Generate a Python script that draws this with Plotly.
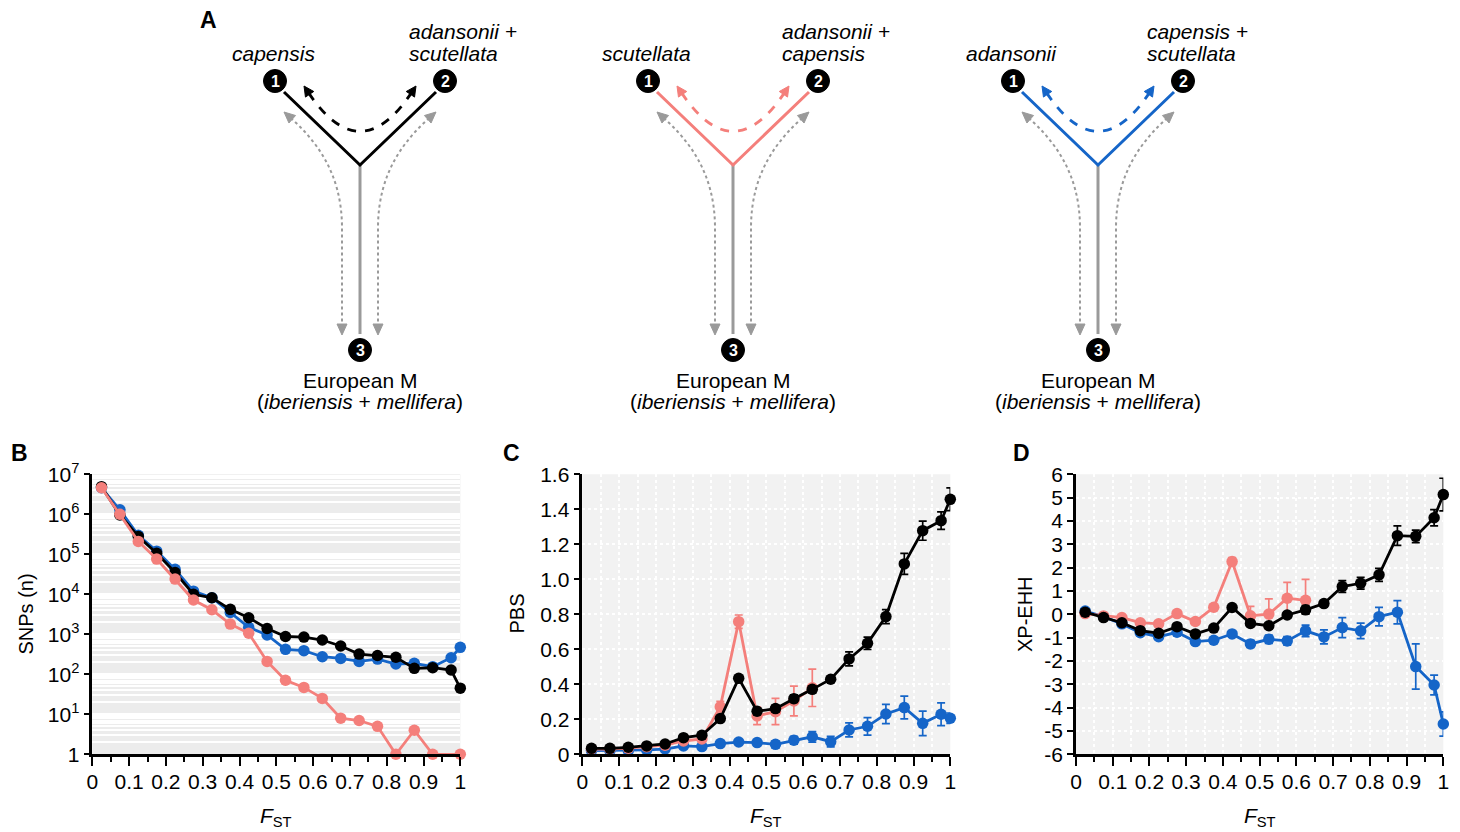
import math
import plotly.graph_objects as go

# ---------------- data ----------------
fst = [0.025, 0.075, 0.125, 0.175, 0.225, 0.275, 0.325, 0.375, 0.425, 0.475,
       0.525, 0.575, 0.625, 0.675, 0.725, 0.775, 0.825, 0.875, 0.925, 0.975, 1.0]

# Panel B: number of SNPs per FST bin
snp_black = [4.9e6, 9.6e5, 2.8e5, 1.06e5, 3.5e4, 1.0e4, 8.2e3, 4.2e3, 2.6e3, 1.4e3,
             880, 850, 720, 510, 320, 295, 266, 141, 146, 128, 45]
snp_blue = [4.6e6, 1.3e6, 3.0e5, 1.2e5, 4.2e4, 1.2e4, 8.2e3, 3.5e3, 1.5e3, 960,
            420, 390, 275, 250, 210, 240, 181, 188, 155, 260, 473]
snp_pink = [4.6e6, 1.0e6, 2.1e5, 7.6e4, 2.4e4, 7.2e3, 4.1e3, 1.8e3, 1.06e3, 210,
            71, 47, 25, 8, 7, 5, 1, 4, 1, None, 1]

# Panel C: PBS
pbs_black = [0.034, 0.034, 0.040, 0.048, 0.059, 0.095, 0.109, 0.204, 0.434, 0.246,
             0.261, 0.318, 0.371, 0.429, 0.545, 0.634, 0.787, 1.088, 1.278, 1.335, 1.457]
pbs_black_err = [0.005, 0.005, 0.005, 0.005, 0.006, 0.008, 0.010, 0.012, 0.012, 0.020,
                 0.020, 0.022, 0.020, 0.015, 0.040, 0.035, 0.040, 0.060, 0.055, 0.050, 0.065]
pbs_pink = [0.030, 0.030, 0.035, 0.043, 0.052, 0.076, 0.088, 0.272, 0.758, 0.219,
            0.244, 0.305, 0.380]
pbs_pink_err = [0.004, 0.004, 0.004, 0.005, 0.006, 0.010, 0.012, 0.030, 0.038, 0.050,
                0.075, 0.085, 0.107]
pbs_blue = [0.021, 0.021, 0.021, 0.025, 0.030, 0.048, 0.044, 0.061, 0.070, 0.067,
            0.057, 0.080, 0.100, 0.072, 0.139, 0.160, 0.230, 0.267, 0.177, 0.229, 0.206]
pbs_blue_err = [0.004, 0.004, 0.004, 0.004, 0.005, 0.006, 0.006, 0.008, 0.010, 0.012,
                0.020, 0.022, 0.030, 0.030, 0.040, 0.050, 0.055, 0.065, 0.070, 0.065, 0.030]

# Panel D: XP-EHH
xp_black = [0.09, -0.14, -0.36, -0.70, -0.81, -0.53, -0.84, -0.59, 0.29, -0.39,
            -0.49, -0.03, 0.19, 0.46, 1.19, 1.33, 1.69, 3.37, 3.34, 4.14, 5.13]
xp_black_err = [0.03, 0.03, 0.04, 0.05, 0.06, 0.06, 0.07, 0.08, 0.10, 0.12,
                0.12, 0.13, 0.18, 0.13, 0.25, 0.25, 0.28, 0.42, 0.27, 0.35, 0.70]
xp_pink = [0.03, -0.07, -0.14, -0.36, -0.41, 0.03, -0.31, 0.30, 2.26, -0.06,
           0.01, 0.69, 0.60]
xp_pink_err = [0.03, 0.04, 0.05, 0.05, 0.06, 0.07, 0.08, 0.12, 0.17, 0.40,
               0.65, 0.68, 0.90]
xp_pink_errminus = [0.03, 0.04, 0.05, 0.05, 0.06, 0.07, 0.08, 0.12, 0.17, 0.40,
                    0.65, 0.68, 0.55]
xp_blue = [0.14, -0.10, -0.41, -0.79, -0.96, -0.77, -1.17, -1.11, -0.84, -1.27,
           -1.07, -1.14, -0.71, -0.97, -0.57, -0.71, -0.10, 0.09, -2.24, -3.03, -4.70]
xp_blue_err = [0.03, 0.03, 0.04, 0.05, 0.06, 0.06, 0.07, 0.08, 0.10, 0.15,
               0.18, 0.18, 0.25, 0.30, 0.43, 0.33, 0.40, 0.50, 0.97, 0.42, 0.52]

x_ticks = [0, 0.1, 0.2, 0.3, 0.4, 0.5, 0.6, 0.7, 0.8, 0.9, 1.0]
x_ticktext = ["0", "0.1", "0.2", "0.3", "0.4", "0.5", "0.6", "0.7", "0.8", "0.9", "1"]
snp_ticks = [1, 1e1, 1e2, 1e3, 1e4, 1e5, 1e6, 1e7]
snp_ticktext = ["1", "10<sup>1</sup>", "10<sup>2</sup>", "10<sup>3</sup>", "10<sup>4</sup>",
                "10<sup>5</sup>", "10<sup>6</sup>", "10<sup>7</sup>"]
pbs_ticks = [0, 0.2, 0.4, 0.6, 0.8, 1.0, 1.2, 1.4, 1.6]
pbs_ticktext = ["0", "0.2", "0.4", "0.6", "0.8", "1.0", "1.2", "1.4", "1.6"]
xp_ticks = [-6, -5, -4, -3, -2, -1, 0, 1, 2, 3, 4, 5, 6]
xp_ticktext = ["-6", "-5", "-4", "-3", "-2", "-1", "0", "1", "2", "3", "4", "5", "6"]

# tree diagrams: (left label, right label line 1, right label line 2)
trees = [
    ("capensis", "adansonii +", "scutellata"),
    ("scutellata", "adansonii +", "capensis"),
    ("adansonii", "capensis +", "scutellata"),
]

# ---------------- style ----------------
W, H = 1460, 832
BLACK = "#000000"
PINK = "#f47f7b"
BLUE = "#1565c8"
GREY = "#9a9a9a"
FONT = "Liberation Sans, Arial, sans-serif"
TICKF = 21

fig = go.Figure()


def px(x0, x1):
    return [x0 / W, x1 / W]


def py(top, bottom):
    return [(H - bottom) / H, (H - top) / H]


panels = {
    "B": dict(xa="x", ya="y", dx=px(92.3, 460.3)),
    "C": dict(xa="x2", ya="y2", dx=px(582.3, 950.3)),
    "D": dict(xa="x3", ya="y3", dx=px(1076, 1443.3)),
}
dy = py(474.3, 754.3)


def add_series(xa, ya, yvals, color, err=None, errminus=None):
    kw = {}
    if err is not None:
        e = dict(type="data", array=err, color=color, thickness=1.7, width=4, visible=True)
        if errminus is not None:
            e["symmetric"] = False
            e["arrayminus"] = errminus
        kw["error_y"] = e
    fig.add_trace(go.Scatter(
        x=fst[:len(yvals)], y=yvals, xaxis=xa, yaxis=ya, mode="lines+markers",
        line=dict(color=color, width=2.8), marker=dict(color=color, size=11.5),
        connectgaps=True, cliponaxis=False, showlegend=False, hoverinfo="skip", **kw))


# Panel B
add_series("x", "y", snp_blue, BLUE)
add_series("x", "y", snp_black, BLACK)
add_series("x", "y", snp_pink, PINK)
# Panel C
add_series("x2", "y2", pbs_blue, BLUE, pbs_blue_err)
add_series("x2", "y2", pbs_pink, PINK, pbs_pink_err)
add_series("x2", "y2", pbs_black, BLACK, pbs_black_err)
# Panel D
add_series("x3", "y3", xp_blue, BLUE, xp_blue_err)
add_series("x3", "y3", xp_pink, PINK, xp_pink_err, xp_pink_errminus)
add_series("x3", "y3", xp_black, BLACK, xp_black_err)

common_x = dict(
    range=[0, 1], tickvals=x_ticks, ticktext=x_ticktext, ticks="outside", ticklen=9,
    tickwidth=2, tickcolor=BLACK, showline=True, linewidth=2.5, linecolor=BLACK,
    tickfont=dict(size=TICKF, color=BLACK, family=FONT), zeroline=False,
    fixedrange=True, ticklabelstandoff=-2, automargin=False,
)
common_y = dict(
    ticks="outside", ticklen=6, tickwidth=2, tickcolor=BLACK, showline=True,
    linewidth=2.5, linecolor=BLACK, tickfont=dict(size=TICKF, color=BLACK, family=FONT),
    zeroline=False, fixedrange=True, ticklabelstandoff=0, automargin=False,
)
grid_minor_x = dict(dtick=0.05, tick0=0, ticks="outside", ticklen=5, tickwidth=2,
                    tickcolor=BLACK, showgrid=True, gridcolor="white", gridwidth=2,
                    griddash="dot")
plain_minor_x = dict(dtick=0.05, tick0=0, ticks="outside", ticklen=5, tickwidth=2,
                     tickcolor=BLACK, showgrid=False)

log_minor = [k * 10 ** d for d in range(0, 7) for k in range(2, 10)]

fig.update_layout(
    xaxis=dict(domain=panels["B"]["dx"], anchor="y", showgrid=False,
               minor=plain_minor_x, **common_x),
    yaxis=dict(domain=dy, anchor="x", type="log", range=[0, 7], tickvals=snp_ticks,
               ticktext=snp_ticktext, showgrid=True, gridcolor="white", gridwidth=1.5,
               minor=dict(tickvals=log_minor, ticks="", showgrid=True,
                          gridcolor="white", gridwidth=1.5),
               **common_y),
    xaxis2=dict(domain=panels["C"]["dx"], anchor="y2", showgrid=True, gridcolor="white",
                gridwidth=2, griddash="dot", minor=grid_minor_x, **common_x),
    yaxis2=dict(domain=dy, anchor="x2", range=[0, 1.6], tickvals=pbs_ticks,
                ticktext=pbs_ticktext, showgrid=True, gridcolor="white", gridwidth=2,
                griddash="dot", **common_y),
    xaxis3=dict(domain=panels["D"]["dx"], anchor="y3", showgrid=True, gridcolor="white",
                gridwidth=2, griddash="dot", minor=grid_minor_x, **common_x),
    yaxis3=dict(domain=dy, anchor="x3", range=[-6, 6], tickvals=xp_ticks,
                ticktext=xp_ticktext, showgrid=True, gridcolor="white", gridwidth=2,
                griddash="dot", **common_y),
    # hidden overlay in pixel units for panel A and labels
    xaxis4=dict(domain=[0, 1], anchor="y4", range=[0, W], visible=False, fixedrange=True,
                automargin=False),
    yaxis4=dict(domain=[0, 1], anchor="x4", range=[H, 0], visible=False, fixedrange=True,
                automargin=False),
    width=W, height=H, autosize=False, margin=dict(l=0, r=0, t=0, b=0, pad=0),
    paper_bgcolor="white", plot_bgcolor="rgba(0,0,0,0)",
    font=dict(family=FONT, color=BLACK),
    showlegend=False,
)

# grey plot backgrounds
for key, bg in (("B", "#ececec"), ("C", "#f2f2f2"), ("D", "#f2f2f2")):
    p = panels[key]
    fig.add_shape(type="rect", xref=p["xa"] + " domain", yref=p["ya"] + " domain",
                  x0=0, x1=1, y0=0, y1=1, fillcolor=bg, line=dict(width=0), layer="below")

shapes = []
annos = []


def arrowhead(tip, d, color, L=10, Wd=5):
    n = math.hypot(*d)
    ux, uy = d[0] / n, d[1] / n
    bx, by = tip[0] - L * ux, tip[1] - L * uy
    pxv, pyv = -uy, ux
    path = (f"M {tip[0]:.2f},{tip[1]:.2f} L {bx + Wd * pxv:.2f},{by + Wd * pyv:.2f} "
            f"L {bx - Wd * pxv:.2f},{by - Wd * pyv:.2f} Z")
    shapes.append(dict(type="path", path=path, xref="x4", yref="y4",
                       fillcolor=color, line=dict(color=color, width=1)))
    return (bx + 2 * ux, by + 2 * uy)


def text(x, y, s, size=21, xanchor="center", color=BLACK, angle=0, bold=False):
    annos.append(dict(x=x, y=y, xref="x4", yref="y4", text=(f"<b>{s}</b>" if bold else s),
                      showarrow=False, xanchor=xanchor, yanchor="middle", textangle=angle,
                      font=dict(size=size, color=color, family=FONT)))


tree_centres = [360, 733, 1098]
tree_colors = [BLACK, PINK, BLUE]

for (lab_l, lab_r1, lab_r2), cx, col in zip(trees, tree_centres, tree_colors):
    jy = 165
    shapes.append(dict(type="line", xref="x4", yref="y4", x0=cx, x1=cx, y0=jy, y1=334,
                       line=dict(color=GREY, width=3)))
    shapes.append(dict(type="path", xref="x4", yref="y4",
                       path=f"M {cx - 76},{92} L {cx},{jy} L {cx + 76},{92}",
                       line=dict(color=col, width=3)))
    s_l = arrowhead((cx - 56, 86), (-50, -74), col)
    s_r = arrowhead((cx + 56, 86), (50, -74), col)
    shapes.append(dict(type="path", xref="x4", yref="y4",
                       path=f"M {s_l[0]:.2f},{s_l[1]:.2f} Q {cx},{170} {s_r[0]:.2f},{s_r[1]:.2f}",
                       line=dict(color=col, width=2.8, dash="dash")))
    for sgn in (-1, 1):
        top = arrowhead((cx + sgn * 76, 112), (sgn * 25, -22), GREY, L=11, Wd=5)
        bot = arrowhead((cx + sgn * 18, 335), (0, 1), GREY, L=11, Wd=5)
        shapes.append(dict(
            type="path", xref="x4", yref="y4",
            path=(f"M {top[0]:.2f},{top[1]:.2f} C {cx + sgn * 45},{140} {cx + sgn * 18},{172} "
                  f"{cx + sgn * 18},{228} L {bot[0]:.2f},{bot[1]:.2f}"),
            line=dict(color=GREY, width=2, dash="dot")))
    for num, (ccx, ccy) in zip((1, 2, 3), ((cx - 85, 81), (cx + 85, 81), (cx, 350))):
        shapes.append(dict(type="circle", xref="x4", yref="y4", x0=ccx - 11.5, x1=ccx + 11.5,
                           y0=ccy - 11.5, y1=ccy + 11.5, fillcolor=BLACK,
                           line=dict(color=BLACK, width=1)))
        text(ccx, ccy + 0.5, str(num), size=16, color="white", bold=True)
    text(cx - 87, 53, f"<i>{lab_l}</i>")
    text(cx + 47, 31, f"<i>{lab_r1}</i>", xanchor="left")
    text(cx + 47, 53, f"<i>{lab_r2}</i>", xanchor="left")
    text(cx, 380, "European M")
    text(cx, 401, "(<i>iberiensis</i> + <i>mellifera</i>)")

text(208, 20, "A", size=23, bold=True)
text(19, 453, "B", size=23, bold=True)
text(511, 453, "C", size=23, bold=True)
text(1021, 453, "D", size=23, bold=True)

for cxp in (276.3, 766.3, 1259.7):
    text(cxp, 817, "<i>F</i><sub>ST</sub>", size=21)
text(25.5, 614, "SNPs (n)", size=20, angle=-90)
text(516.5, 614, "PBS", size=20, angle=-90)
text(1025, 614, "XP-EHH", size=20, angle=-90)

for s in shapes:
    fig.add_shape(**s)
fig.update_layout(annotations=annos)

fig.write_html(
    "out.html",
    config={"displayModeBar": False, "staticPlot": False},
    post_script=("document.documentElement.style.margin='0';"
                 "document.body.style.margin='0';document.body.style.padding='0';"
                 "document.body.style.overflow='hidden';"),
)
